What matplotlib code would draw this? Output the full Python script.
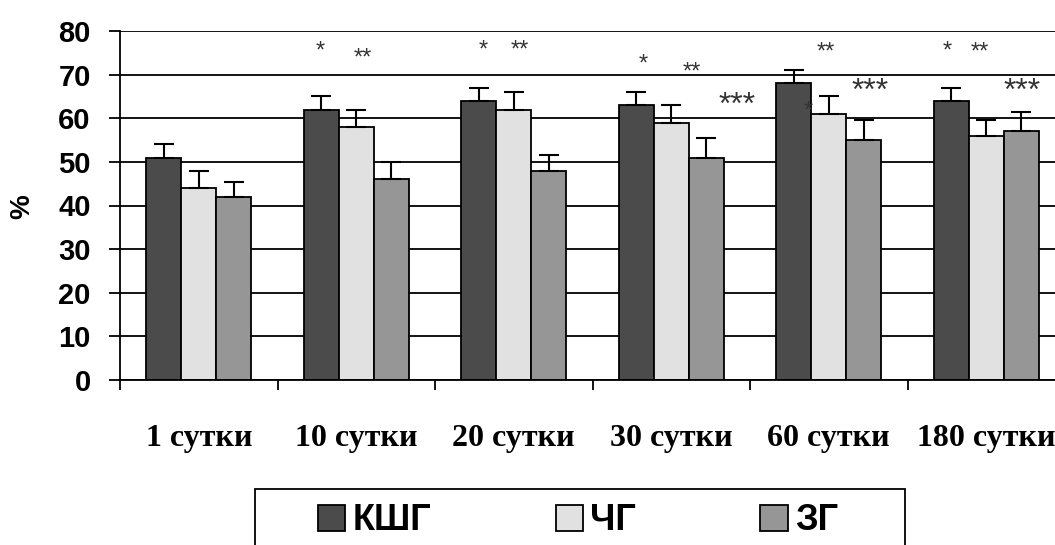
import matplotlib
matplotlib.use("Agg")
import matplotlib.pyplot as plt
import matplotlib.patches as mpatches
import numpy as np


# DATA
categories = ["1 сутки", "10 сутки", "20 сутки", "30 сутки", "60 сутки", "180 сутки"]
series_names = ["КШГ", "ЧГ", "ЗГ"]

kshg = [51, 62, 64, 63, 68, 64]
chg = [44, 58, 62, 59, 61, 56]
zg = [42, 46, 48, 51, 55, 57]

kshg_err = [3, 3, 3, 3, 3, 3]
chg_err = [4, 4, 4, 4, 4, 3.5]
zg_err = [3.5, 4, 3.5, 4.5, 4.5, 4.5]

# significance marks: group index, shift inside group, level (%), text, big?
star_group = [1, 1, 2, 2, 3, 3, 3, 4, 4, 4, 5, 5, 5]
star_shift = [-0.23, 0.04, -0.195, 0.04, -0.18, 0.13, 0.42,
              -0.02, -0.13, 0.26, -0.25, -0.04, 0.23]
star_level = [76.3, 74.8, 76.6, 76.6, 73.4, 71.5, 64.2,
              76.1, 62.6, 67.4, 76.3, 76.1, 67.4]
star_text = ["*", "**", "*", "**", "*", "**", "***",
             "**", "*", "***", "*", "**", "***"]
star_big = [False, False, False, False, False, False, True,
            False, False, True, False, False, True]


def main():

    colors = ["#4b4b4b", "#e1e1e1", "#969696"]
    values = [kshg, chg, zg]
    errors = [kshg_err, chg_err, zg_err]

    fig = plt.figure(figsize=(10.55, 5.45), dpi=100)
    ax = fig.add_axes([120 / 1055, 165 / 545, 945 / 1055, 349 / 545])

    x = np.arange(len(categories)) + 0.5
    w = 0.222

    handles = []
    for i in range(3):
        b = ax.bar(x + (i - 1) * w, values[i], w, color=colors[i],
                   edgecolor="black", linewidth=1.3, zorder=2,
                   label=series_names[i])
        ax.errorbar(x + (i - 1) * w, values[i],
                    yerr=[np.zeros(len(categories)), errors[i]],
                    fmt="none", ecolor="black", elinewidth=1.5,
                    capsize=7, capthick=1.5, zorder=3)
        handles.append(b)

    # Stars (baseline placed so the glyph centre sits on the level)
    for g, s, lv, t, big in zip(star_group, star_shift, star_level,
                                star_text, star_big):
        size = 23 if big else 17
        ax.annotate(t, (x[g] + s, lv), xytext=(0, -0.45 * size),
                    textcoords="offset points", ha="center",
                    va="baseline", fontsize=size, color="#333333",
                    family="Liberation Sans")

    # Axis
    ax.set_xlim(0, 6)
    ax.set_ylim(0, 80)
    ax.set_yticks(np.arange(0, 81, 10))
    ax.yaxis.grid(True, color="black", linewidth=1.3)
    ax.set_axisbelow(True)

    for side in ["top", "right"]:
        ax.spines[side].set_visible(False)
    for side in ["left", "bottom"]:
        ax.spines[side].set_linewidth(1.3)

    ax.tick_params(axis="y", length=8, width=1.3, pad=13,
                   labelsize=21)
    for lab in ax.get_yticklabels():
        lab.set_fontweight("bold")
        lab.set_family("Liberation Sans")

    ax.set_xticks(np.arange(0, 7))
    ax.set_xticklabels([])
    ax.tick_params(axis="x", which="major", length=7, width=1.3)
    ax.set_xticks(x, minor=True)
    ax.set_xticklabels(categories, minor=True, fontsize=23,
                       fontweight="bold", family="Liberation Serif")
    ax.tick_params(axis="x", which="minor", length=0, pad=32)

    fig.text(22 / 1055, 1 - 207 / 545, "%", rotation=90, ha="center",
             va="center", fontsize=20, fontweight="bold",
             family="Liberation Sans")

    # Legend
    fig.add_artist(mpatches.Rectangle((255 / 1055, -0.05), 650 / 1055,
                                      0.05 + 56 / 545, transform=fig.transFigure,
                                      facecolor="white", edgecolor="black",
                                      linewidth=1.3))
    fig.legend(handles=handles, loc="center",
               bbox_to_anchor=(578 / 1055, 1 - 521 / 545), ncol=3,
               frameon=False, prop={"family": "Liberation Sans",
                                    "weight": "bold", "size": 26},
               handlelength=0.75, handleheight=0.74, handletextpad=0.2,
               columnspacing=3.45)

    fig.savefig("out.png", dpi=100)


if __name__ == "__main__":
    main()
